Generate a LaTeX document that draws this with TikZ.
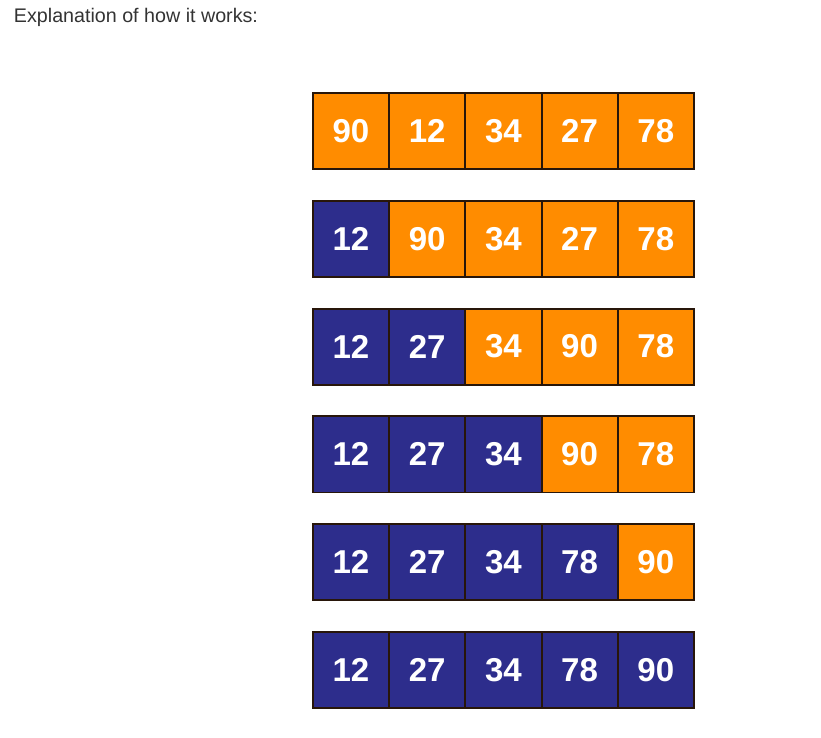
\documentclass[tikz,border=0pt]{standalone}
\usepackage{fontspec}
\setmainfont{Liberation Sans}
\usetikzlibrary{positioning}
\definecolor{sortorange}{RGB}{255,140,0}
\definecolor{sortblue}{RGB}{45,45,140}
\definecolor{cellline}{RGB}{40,22,10}
\definecolor{captiongray}{RGB}{51,51,51}

\begin{document}
\begin{tikzpicture}[
    x=0.025cm, y=-0.025cm,
    cell/.style={draw=cellline, line width=1.3pt, minimum width=1.9cm, minimum height=1.9cm, inner sep=0pt, text=white, font=\fontsize{23.5}{27}\selectfont\bfseries},
    todo/.style={cell, fill=sortorange},
    done/.style={cell, fill=sortblue},
    caption/.style={font=\fontsize{14}{17}\selectfont, text=captiongray, anchor=west}
  ]
    \useasboundingbox (0,0) rectangle (821,737);

    \node[caption] (title) at (9,17) {Explanation of how it works:};

    % one row per pass, the first (\r-1) cells are sorted
    \foreach \vals [count=\r] in {{90,12,34,27,78},{12,90,34,27,78},{12,27,34,90,78},
                                  {12,27,34,90,78},{12,27,34,78,90},{12,27,34,78,90}} {
      \foreach \v [count=\c] in \vals {
        \ifnum\c<\r \def\kind{done}\else\def\kind{todo}\fi
        \node[\kind] (r\r c\c) at ({351+(\c-1)*76.2},{131+(\r-1)*107.8}) {\v};
      }
    }
  \end{tikzpicture}
\end{document}
